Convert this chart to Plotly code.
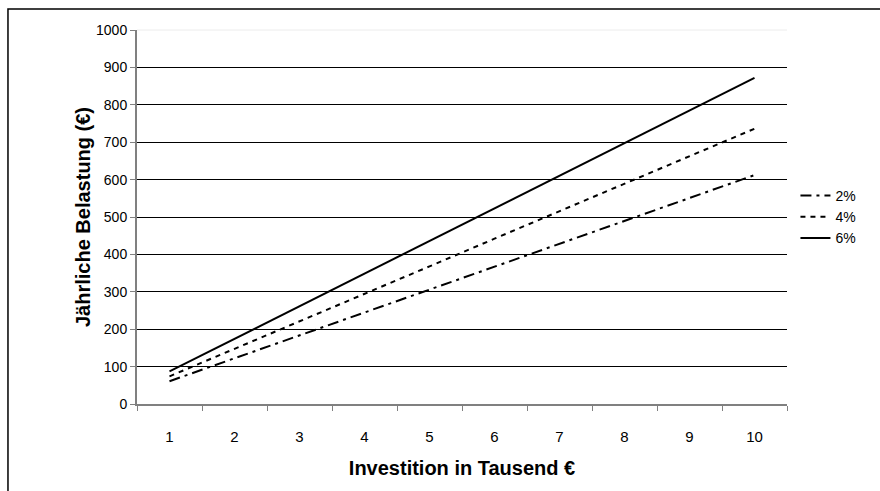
import plotly.graph_objects as go

categories = ["1", "2", "3", "4", "5", "6", "7", "8", "9", "10"]
series_names = ["2%", "4%", "6%"]
values_2 = [61, 122, 183, 245, 306, 367, 428, 489, 550, 612]
values_4 = [74, 147, 221, 294, 368, 442, 515, 589, 662, 736]
values_6 = [87, 174, 262, 349, 436, 523, 610, 697, 785, 872]
y_ticks = [0, 100, 200, 300, 400, 500, 600, 700, 800, 900, 1000]

FONT = "Liberation Sans, Arial, sans-serif"
dashes = ["11px,5px,3px,5px", "5px,5px", "solid"]

fig = go.Figure()
for name, vals, d in zip(series_names, [values_2, values_4, values_6], dashes):
    fig.add_trace(go.Scatter(
        x=categories, y=vals, mode="lines", name=name, legendgroup=name,
        line=dict(color="black", width=2, dash=d),
    ))

fig.update_layout(
    width=880, height=491,
    margin=dict(l=137, r=93, t=30, b=87),
    paper_bgcolor="white", plot_bgcolor="white",
    font=dict(family=FONT, size=14, color="black"),
    showlegend=True,
    legend=dict(x=1.013, y=0.50, xanchor="left", yanchor="middle",
                font=dict(size=14), itemwidth=30, tracegroupgap=0,
                bgcolor="rgba(0,0,0,0)"),
    xaxis=dict(type="category", tickson="boundaries", range=[-0.5, 9.5],
               ticks="outside", ticklen=5,
               tickcolor="#808080", showline=True, linecolor="#808080", linewidth=2,
               showgrid=False, zeroline=False, ticklabelstandoff=18,
               title=dict(text="<b>Investition in Tausend €</b>", font=dict(size=20), standoff=17),
               tickfont=dict(size=15)),
    yaxis=dict(range=[0, 1000], tickvals=y_ticks, ticks="outside", ticklen=5,
               tickcolor="#808080", showline=True, linecolor="#808080", linewidth=2,
               showgrid=True, gridcolor="black", gridwidth=1, zeroline=False,
               title=dict(text="<b>Jährliche Belastung (€)</b>", font=dict(size=20), standoff=0),
               tickfont=dict(size=14)),
    shapes=[
        dict(type="line", xref="paper", yref="paper", x0=0, x1=1, y0=1, y1=1,
             line=dict(color="#ececec", width=1)),
        dict(type="rect", xref="paper", yref="paper", x0=-0.1985, x1=1.3, y0=-0.5, y1=1.056,
             line=dict(color="black", width=1.5), fillcolor="rgba(0,0,0,0)"),
    ],
)
fig.write_html("out.html")
